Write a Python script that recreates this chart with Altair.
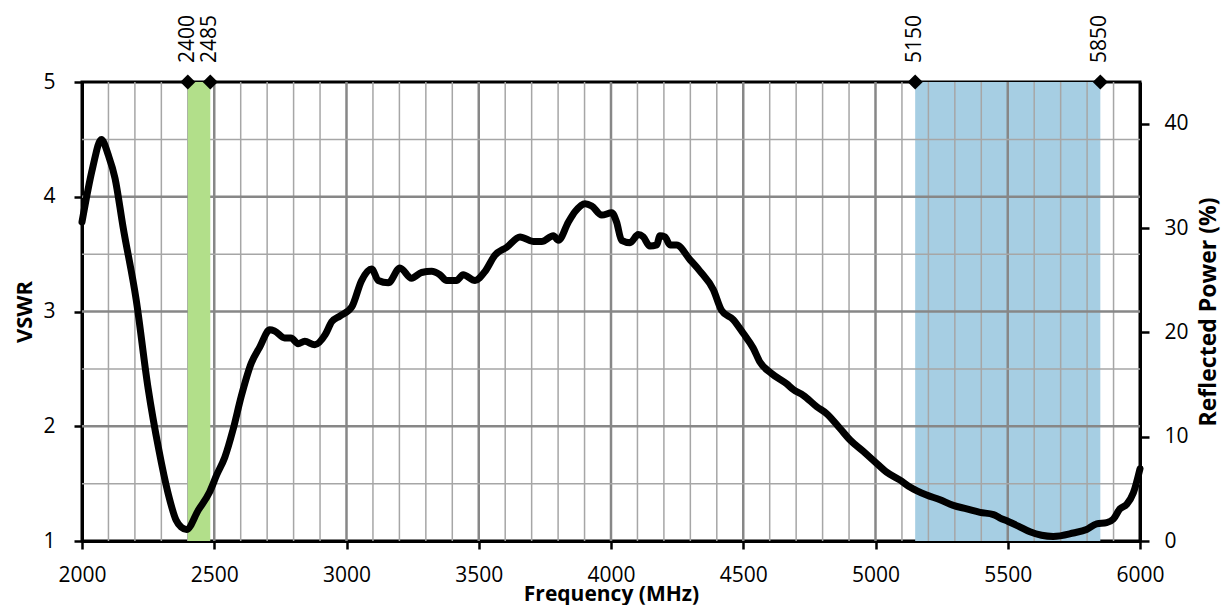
import altair as alt
import pandas as pd

# ---- data ----
freq = [2000, 2040, 2073, 2100, 2125, 2155, 2205, 2250, 2290, 2325, 2356, 2375, 2395,
        2440, 2483, 2510, 2540, 2571, 2602, 2640, 2672, 2710, 2728, 2766, 2790, 2817,
        2842, 2880, 2920, 2944, 2975, 3020, 3057, 3095, 3120, 3158, 3202, 3246, 3284,
        3322, 3353, 3379, 3416, 3441, 3486, 3524, 3561, 3606, 3656, 3706, 3738, 3782,
        3801, 3839, 3864, 3902, 3927, 3965, 4003, 4021, 4040, 4072, 4103, 4122, 4147,
        4173, 4185, 4204, 4223, 4248, 4299, 4337, 4387, 4418, 4462, 4500, 4538, 4563,
        4607, 4664, 4689, 4727, 4778, 4815, 4866, 4904, 4954, 4998, 5042, 5093, 5130,
        5193, 5244, 5294, 5345, 5395, 5446, 5471, 5502, 5540, 5584, 5628, 5672, 5748,
        5798, 5836, 5874, 5899, 5924, 5950, 5975, 6000]
vswr = [3.78, 4.25, 4.50, 4.36, 4.16, 3.74, 3.10, 2.33, 1.80, 1.42, 1.18, 1.12, 1.10,
        1.27, 1.43, 1.58, 1.73, 1.97, 2.26, 2.55, 2.69, 2.84, 2.83, 2.77, 2.77, 2.72,
        2.74, 2.71, 2.80, 2.91, 2.96, 3.04, 3.27, 3.37, 3.27, 3.25, 3.38, 3.29, 3.34,
        3.35, 3.32, 3.27, 3.27, 3.32, 3.27, 3.35, 3.49, 3.56, 3.65, 3.61, 3.61, 3.66,
        3.62, 3.78, 3.87, 3.94, 3.92, 3.84, 3.86, 3.78, 3.62, 3.60, 3.67, 3.65, 3.57,
        3.58, 3.66, 3.65, 3.58, 3.58, 3.45, 3.35, 3.19, 3.01, 2.93, 2.81, 2.68, 2.56,
        2.46, 2.37, 2.32, 2.27, 2.17, 2.11, 1.98, 1.88, 1.78, 1.69, 1.60, 1.53, 1.47,
        1.40, 1.36, 1.31, 1.28, 1.25, 1.23, 1.20, 1.17, 1.13, 1.08, 1.05, 1.04, 1.07,
        1.10, 1.15, 1.16, 1.19, 1.28, 1.32, 1.42, 1.63]

green_band = [2400, 2485]
blue_band = [5150, 5850]
edge_freq = [2400, 2485, 5150, 5850]
edge_label = ["2400", "2485", "5150", "5850"]

x_ticks = [2000, 2500, 3000, 3500, 4000, 4500, 5000, 5500, 6000]
x_major_grid = [2500, 3000, 3500, 4000, 4500, 5000, 5500]
x_minor_grid = [2100, 2200, 2300, 2400, 2600, 2700, 2800, 2900, 3100, 3200, 3300, 3400,
                3600, 3700, 3800, 3900, 4100, 4200, 4300, 4400, 4600, 4700, 4800, 4900,
                5100, 5200, 5300, 5400, 5600, 5700, 5800, 5900]
y_ticks = [1, 2, 3, 4, 5]
y_major_grid = [2, 3, 4]
y_minor_grid = [1.5, 2.5, 3.5, 4.5]
pct_ticks = [0, 10, 20, 30, 40]
x_domain = [2000, 6000]
y_domain = [1, 5]
pct_domain = [0, 44.0]

FONT = "Open Sans"

df_line = pd.DataFrame({"freq": freq, "vswr": vswr})
df_green = pd.DataFrame({"start": [green_band[0]], "end": [green_band[1]]})
df_blue = pd.DataFrame({"start": [blue_band[0]], "end": [blue_band[1]]})
df_edges = pd.DataFrame({"freq": edge_freq, "label": edge_label,
                         "top": [y_domain[1]] * len(edge_freq)})
df_xmaj = pd.DataFrame({"f": x_major_grid})
df_xmin = pd.DataFrame({"f": x_minor_grid})
df_ymaj = pd.DataFrame({"v": y_major_grid})
df_ymin = pd.DataFrame({"v": y_minor_grid})
df_pct = pd.DataFrame({"pct": pct_domain})

xs = alt.Scale(domain=x_domain, nice=False, zero=False)
ys = alt.Scale(domain=y_domain, nice=False, zero=False)

x_axis = alt.Axis(values=x_ticks, format="d", title="Frequency (MHz)", grid=False,
                  labelFlush=False, labelOverlap=False, labelBound=False,
                  tickSize=8, tickWidth=2.5, tickColor="black",
                  domainColor="black", domainWidth=3,
                  labelFont=FONT, labelFontSize=21, labelColor="black",
                  labelBaseline="alphabetic", labelPadding=32,
                  titleFont=FONT, titleFontSize=21, titleFontWeight="bold",
                  titleColor="black", titleX=529, titleY=59,
                  titleBaseline="alphabetic", titleAlign="center")
y_axis = alt.Axis(values=y_ticks, format="d", title="VSWR", grid=False,
                  labelFlush=False, labelOverlap=False,
                  tickSize=8, tickWidth=2.5, tickColor="black",
                  domainColor="black", domainWidth=3,
                  labelFont=FONT, labelFontSize=21, labelColor="black", labelPadding=19,
                  titleFont=FONT, titleFontSize=22, titleFontWeight="bold",
                  titleColor="black", titleAngle=270, titleX=-58, titleY=229.5,
                  titleBaseline="middle", titleAlign="center")
r_axis = alt.Axis(values=pct_ticks, format="d", title="Reflected Power (%)", grid=False,
                  orient="right", labelFlush=False, labelOverlap=False,
                  tickSize=9, tickWidth=2.5, tickColor="black",
                  domainColor="black", domainWidth=3,
                  labelFont=FONT, labelFontSize=21, labelColor="black",
                  labelAlign="left", labelPadding=15,
                  titleFont=FONT, titleFontSize=23, titleFontWeight="bold",
                  titleColor="black", titleAngle=270, titleX=68, titleY=229.5,
                  titleBaseline="middle", titleAlign="center")


def X(field):
    return alt.X(field, scale=xs, axis=x_axis)


def Y(field):
    return alt.Y(field, scale=ys, axis=y_axis)


blue = alt.Chart(df_blue).mark_rect(color="#a6cee3").encode(x=X("start:Q"), x2="end:Q")
vmin = alt.Chart(df_xmin).mark_rule(color="#a6a6a6", strokeWidth=1.5).encode(x=X("f:Q"))
vmaj = alt.Chart(df_xmaj).mark_rule(color="#878787", strokeWidth=2.5).encode(x=X("f:Q"))
hmin = alt.Chart(df_ymin).mark_rule(color="#a6a6a6", strokeWidth=1.5).encode(y=Y("v:Q"))
hmaj = alt.Chart(df_ymaj).mark_rule(color="#878787", strokeWidth=2.5).encode(y=Y("v:Q"))
green = alt.Chart(df_green).mark_rect(color="#b2df8a").encode(x=X("start:Q"), x2="end:Q")
line = alt.Chart(df_line).mark_line(color="black", strokeWidth=7, strokeJoin="round",
                                    strokeCap="round", interpolate="monotone").encode(
    x=X("freq:Q"), y=Y("vswr:Q"))
diamonds = alt.Chart(df_edges).mark_point(shape="diamond", filled=True, color="black",
                                          opacity=1, size=230).encode(
    x=X("freq:Q"), y=Y("top:Q"))
labels = alt.Chart(df_edges).mark_text(angle=270, align="left", baseline="middle", dx=19,
                                       font=FONT, fontSize=21, color="black").encode(
    x=X("freq:Q"), y=Y("top:Q"), text="label:N")

inner = alt.layer(blue, vmin, vmaj, hmin, hmaj, green, line, diamonds, labels)

right = alt.Chart(df_pct).mark_point(opacity=0).encode(
    y=alt.Y("pct:Q", scale=alt.Scale(domain=pct_domain, nice=False, zero=True), axis=r_axis))

chart = alt.layer(inner, right).resolve_scale(y="independent").properties(
    width=1058, height=459,
    autosize=alt.AutoSizeParams(type="none"),
    padding={"left": 74, "top": 74, "right": 82, "bottom": 64},
).configure_view(stroke="black", strokeWidth=3)

chart.save("out.html", embed_options={"renderer": "svg", "actions": False})
